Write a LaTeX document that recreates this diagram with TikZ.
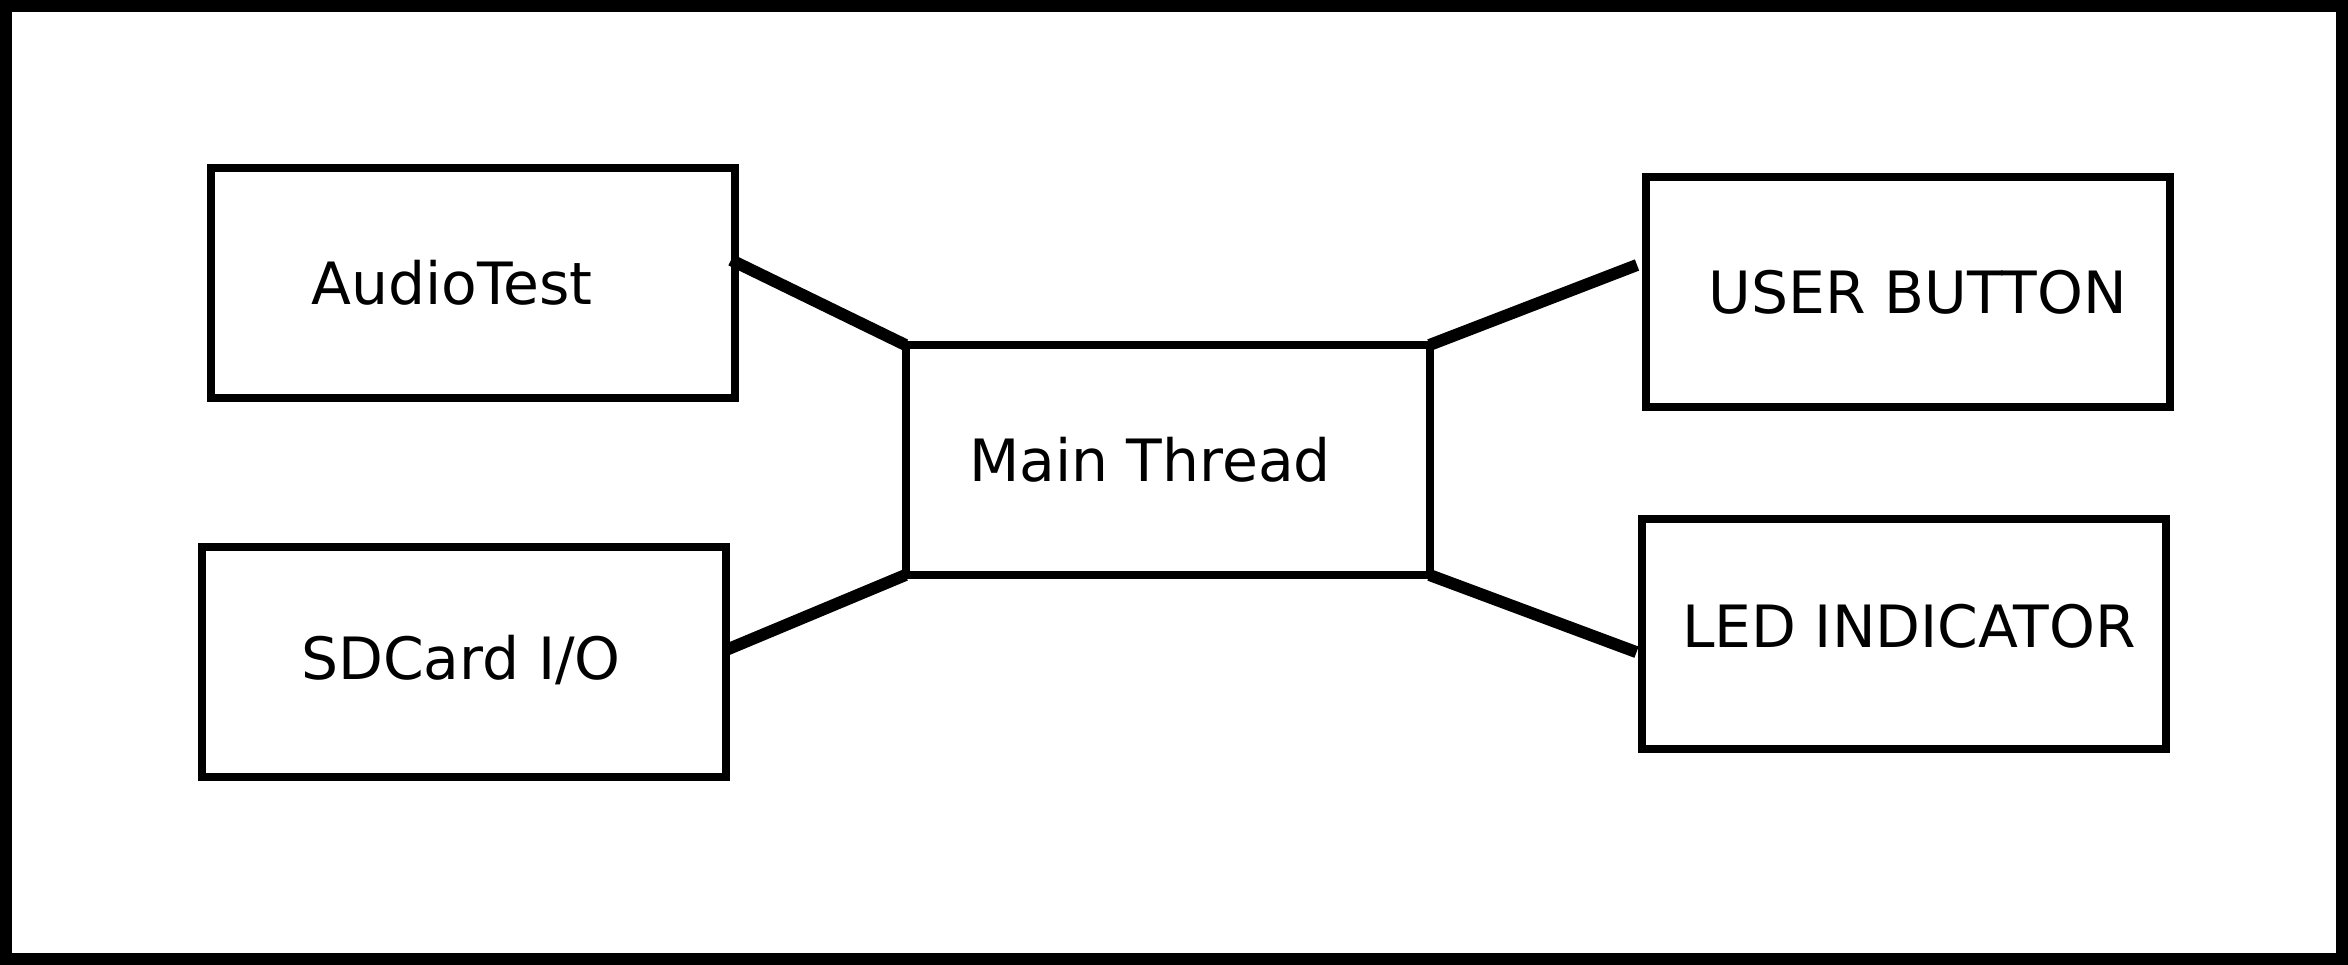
\documentclass[tikz,border=0pt]{standalone}
\usepackage{fontspec}
\setmainfont{DejaVu Sans}
\begin{document}
\begin{tikzpicture}[x=0.3pt,y=-0.3pt,
  box/.style={draw,line width=2.4pt,rectangle,inner sep=0pt,outer sep=0pt,minimum width=157.2pt,minimum height=69pt},
  lbl/.style={font=\fontsize{17.5}{21}\selectfont},
  conn/.style={line width=3.6pt}]
\useasboundingbox (0,0) rectangle (2348,965);
\draw[line width=3.6pt] (6,6) rectangle (2342,959);
\node[box] (audio) at (473,283) {};
\node[lbl] (audiot) at (452,283) {AudioTest};
\node[box] (sd) at (464,662) {};
\node[lbl] (sdt) at (461,660) {SDCard I/O};
\node[box] (main) at (1167.5,460) {};
\node[lbl] (maint) at (1150,460) {Main Thread};
\node[box] (user) at (1908,292) {};
\node[lbl] (usert) at (1918,292) {USER BUTTON};
\node[box] (led) at (1903.5,633.5) {};
\node[lbl] (ledt) at (1909,626) {LED INDICATOR};
\coordinate (c1) at ([xshift=-1.2pt,yshift=6.9pt]audio.east);
\coordinate (c2) at ([yshift=3.6pt]sd.east);
\coordinate (c3) at ([xshift=-2.7pt,yshift=8.1pt]user.west);
\coordinate (c4) at ([xshift=-1.5pt,yshift=-5.6pt]led.west);
\draw[conn] (c1) -- (main.north west);
\draw[conn] (c2) -- (main.south west);
\draw[conn] (main.north east) -- (c3);
\draw[conn] (main.south east) -- (c4);
\end{tikzpicture}
\end{document}
